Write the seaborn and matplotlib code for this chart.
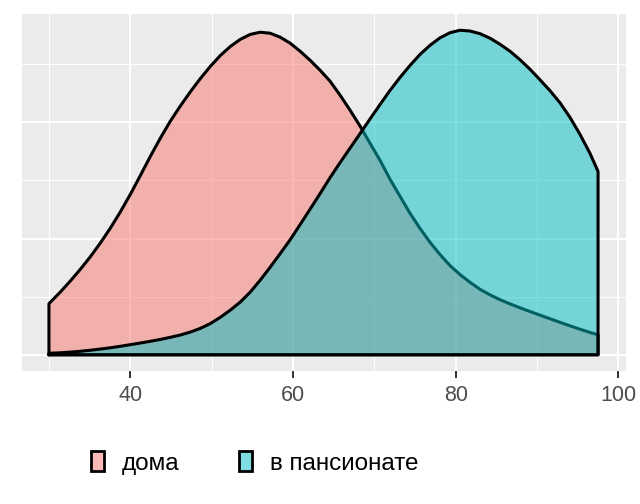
import matplotlib
matplotlib.use("Agg")
import matplotlib.pyplot as plt
import numpy as np
import pandas as pd
import seaborn as sns
from matplotlib.patches import Patch
from matplotlib.colors import to_rgba

groups = ["дома", "в пансионате"]
colors = ["#F8766D", "#00BFC4"]

home_x = [30.00, 31.40, 32.63, 33.86, 35.09, 36.31, 37.54, 38.77, 40.00, 41.23,
          42.46, 43.69, 44.91, 46.14, 47.37, 48.60, 49.83, 51.06, 52.29, 53.51,
          54.74, 55.97, 57.20, 58.43, 59.66, 60.88, 62.11, 63.34, 64.57, 65.80,
          67.03, 68.26, 69.48, 70.71, 71.94, 73.17, 74.40, 75.63, 76.86, 78.08,
          79.31, 80.54, 81.77, 83.00, 84.23, 85.45, 86.68, 87.91, 89.14, 90.37,
          91.60, 92.83, 94.05, 95.28, 96.51, 97.50]
home_y = [0.00440, 0.00540, 0.00635, 0.00736, 0.00844, 0.00961, 0.01089, 0.01229,
          0.01380, 0.01542, 0.01707, 0.01864, 0.02009, 0.02140, 0.02262, 0.02376,
          0.02481, 0.02575, 0.02653, 0.02714, 0.02757, 0.02776, 0.02767, 0.02733,
          0.02681, 0.02612, 0.02534, 0.02448, 0.02353, 0.02233, 0.02103, 0.01966,
          0.01819, 0.01672, 0.01509, 0.01362, 0.01216, 0.01086, 0.00966, 0.00862,
          0.00767, 0.00690, 0.00623, 0.00563, 0.00515, 0.00474, 0.00438, 0.00404,
          0.00372, 0.00341, 0.00310, 0.00279, 0.00249, 0.00220, 0.00192, 0.00172]

pens_x = [30.00, 31.40, 32.63, 33.86, 35.09, 36.31, 37.54, 38.77, 40.00, 41.23,
          42.46, 43.69, 44.91, 46.14, 47.37, 48.60, 49.83, 51.06, 52.29, 53.51,
          54.74, 55.97, 57.20, 58.43, 59.66, 60.88, 62.11, 63.34, 64.57, 65.80,
          67.03, 68.26, 69.48, 70.71, 71.94, 73.17, 74.40, 75.63, 76.86, 78.08,
          79.31, 80.54, 81.77, 83.00, 84.23, 85.45, 86.68, 87.91, 89.14, 90.37,
          91.60, 92.83, 94.05, 95.28, 96.51, 97.50]
pens_y = [0.00013, 0.00017, 0.00023, 0.00030, 0.00039, 0.00049, 0.00060, 0.00073,
          0.00087, 0.00101, 0.00116, 0.00132, 0.00150, 0.00170, 0.00195, 0.00227,
          0.00268, 0.00322, 0.00384, 0.00453, 0.00539, 0.00642, 0.00754, 0.00871,
          0.00991, 0.01121, 0.01254, 0.01388, 0.01526, 0.01655, 0.01780, 0.01905,
          0.02030, 0.02155, 0.02276, 0.02388, 0.02491, 0.02586, 0.02664, 0.02728,
          0.02772, 0.02793, 0.02786, 0.02763, 0.02724, 0.02672, 0.02612, 0.02539,
          0.02457, 0.02366, 0.02272, 0.02168, 0.02043, 0.01897, 0.01733, 0.01578]

x_major = [40, 60, 80, 100]
x_minor = [30, 50, 70, 90]
y_major = [0.0, 0.01, 0.02]
y_minor = [0.005, 0.015, 0.025]

sns.set_theme(style="darkgrid")
plt.rcParams["font.family"] = ["Liberation Sans", "DejaVu Sans"]

fig = plt.figure(figsize=(6.4, 5.04), dpi=100)
ax = fig.add_axes([21.5 / 640, 1 - 371 / 504, 604 / 640, 357 / 504])
ax.set_facecolor("#EBEBEB")
for s in ax.spines.values():
    s.set_visible(False)

series = [(home_x, home_y), (pens_x, pens_y)]
z = 3
for (xs, ys), col, name in zip(series, colors, groups):
    ax.fill_between(xs, 0, ys, facecolor=col, alpha=0.5, edgecolor="none", zorder=z)
    px = [xs[0]] + list(xs) + [xs[-1], xs[0]]
    py = [0.0] + list(ys) + [0.0, 0.0]
    outline = pd.DataFrame({"x": px, "y": py})
    sns.lineplot(data=outline, x="x", y="y", sort=False, estimator=None,
                 color="black", linewidth=2.2, ax=ax, zorder=z + 1)
    z += 2
for ln in ax.lines:
    ln.set_solid_joinstyle("round")
    ln.set_solid_capstyle("round")

xmin, xmax = min(home_x + pens_x), max(home_x + pens_x)
xr = xmax - xmin
ax.set_xlim(xmin - 0.05 * xr, xmax + 0.05 * xr)
ymax = max(home_y + pens_y)
ax.set_ylim(-0.05 * ymax, 1.05 * ymax)

ax.set_xticks(x_major)
ax.set_xticklabels([str(v) for v in x_major])
ax.set_xticks(x_minor, minor=True)
ax.set_yticks(y_major)
ax.set_yticks(y_minor, minor=True)
ax.set_yticklabels([])
ax.grid(which="major", color="white", linewidth=1.4)
ax.grid(which="minor", color="white", linewidth=0.7)
ax.set_axisbelow(True)
ax.tick_params(axis="x", which="major", length=5, width=1.4, color="#333333",
               labelcolor="#4D4D4D", labelsize=15.5, pad=5, bottom=True)
ax.tick_params(axis="x", which="minor", length=0)
ax.tick_params(axis="y", which="both", length=0, left=False, labelleft=False)
ax.set_xlabel("")
ax.set_ylabel("")

handles = [Patch(facecolor=to_rgba(c, 0.5), edgecolor="black", linewidth=2.0) for c in colors]
leg = fig.legend(handles, groups, loc="center left", bbox_to_anchor=(91 / 640, 1 - 463 / 504),
                 ncol=2, frameon=False, fontsize=17.5, handlelength=0.55, handleheight=0.85,
                 handletextpad=0.72, columnspacing=2.45, borderaxespad=0, borderpad=0)
for t in leg.get_texts():
    t.set_color("black")

fig.savefig("out.png", dpi=100)
